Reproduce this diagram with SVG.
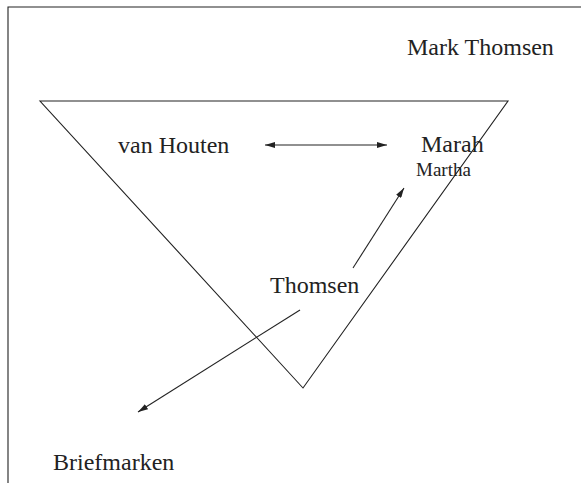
<svg xmlns="http://www.w3.org/2000/svg" width="581" height="483" viewBox="0 0 581 483">
  <style>
    .lbl { font-family: "Liberation Serif", "Times New Roman", serif; fill: #222; font-size: 24px; }
    .sm { font-size: 19px; }
    .ln { stroke: #222; stroke-width: 1.1; fill: none; }
  </style>
  <defs>
    <marker id="ah" viewBox="0 0 10 6" refX="10" refY="3" markerWidth="10" markerHeight="6" markerUnits="userSpaceOnUse" orient="auto-start-reverse">
      <path d="M0,0 L10,3 L0,6 Z" fill="#222"/>
    </marker>
  </defs>
  <rect width="581" height="483" fill="#fff"/>
  <!-- frame -->
  <path class="ln" d="M8,483 V7 H581"/>
  <!-- triangle -->
  <polygon id="triangle" class="ln" points="40,101 508,101 303,388"/>
  <g id="connectors">
    <line class="ln" x1="265" y1="145" x2="387" y2="145" marker-start="url(#ah)" marker-end="url(#ah)"/>
    <line class="ln" x1="353" y1="268" x2="404" y2="188" marker-end="url(#ah)"/>
    <line class="ln" x1="300" y1="310" x2="138" y2="412" marker-end="url(#ah)"/>
  </g>
  <g id="mark-thomsen"><text class="lbl" x="407" y="55">Mark Thomsen</text></g>
  <g id="van-houten"><text class="lbl" x="118" y="153">van Houten</text></g>
  <g id="marah"><text class="lbl" x="421" y="152">Marah</text><text class="lbl sm" x="416" y="176">Martha</text></g>
  <g id="thomsen"><text class="lbl" x="270" y="293">Thomsen</text></g>
  <g id="briefmarken"><text class="lbl" x="53" y="470">Briefmarken</text></g>
</svg>
